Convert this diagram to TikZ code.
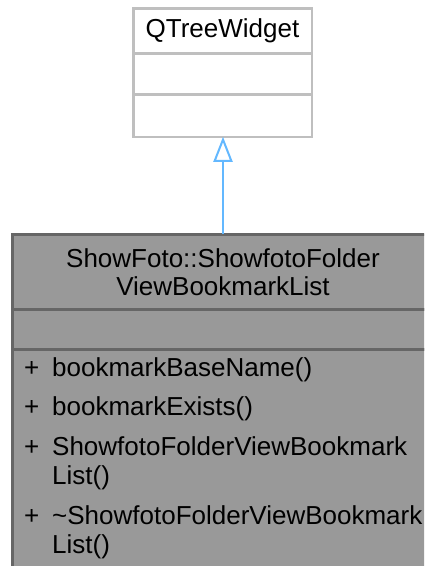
\documentclass[tikz,border=0pt]{standalone}
\usepackage{fontspec}
\setmainfont{Liberation Sans}
\usetikzlibrary{arrows.meta, positioning}
\definecolor{frameLight}{RGB}{191, 191, 191}
\definecolor{frameDark}{RGB}{102, 102, 102}
\definecolor{classFill}{RGB}{153, 153, 153}
\definecolor{inherit}{RGB}{99, 184, 255}

\begin{document}
\begin{tikzpicture}[x=1pt, y=-1pt, font=\fontsize{26}{28}\selectfont,
        base/.style={rectangle, draw=frameLight, line width=2.5pt, fill=white,
                     minimum width=178.5pt, inner sep=0pt, outer sep=0pt},
        cls/.style={rectangle, draw=frameDark, line width=2.5pt, fill=classFill,
                    minimum width=421.5pt, inner sep=0pt, outer sep=0pt, align=center},
        plus/.style={anchor=base west, inner sep=0pt},
        member/.style={anchor=base west, inner sep=0pt}]
        \clip (0,0) rectangle (424,566);
        % base class
        \node[base, minimum height=45.25pt] (qtw) at (222.5,30.9) {QTreeWidget};
        \node[base, minimum height=41pt, below=0pt of qtw] (qtwattr) {};
        \node[base, minimum height=42.25pt, below=0pt of qtwattr] (qtwops) {};
        % derived class
        \node[cls, minimum height=75.25pt] (bml) at (223,271.9) {ShowFoto::ShowfotoFolder\\ViewBookmarkList};
        \node[cls, minimum height=40pt, below=0pt of bml] (bmlattr) {};
        \node[cls, minimum height=240pt, below=0pt of bmlattr] (bmlops) {};
        % members
        \node[plus] (p1) at (24,376) {+};
        \node[member] (m1) at (52,376) {bookmarkBaseName()};
        \node[plus] (p2) at (24,415.5) {+};
        \node[member] (m2) at (52,415.5) {bookmarkExists()};
        \node[plus] (p3) at (24,455.3) {+};
        \node[member] (m3) at (52,455.3) {ShowfotoFolderViewBookmark};
        \node[member] (m3b) at (52,484) {List()};
        \node[plus] (p4) at (24,524.5) {+};
        \node[member] (m4) at (52,524.5) {\textasciitilde ShowfotoFolderViewBookmark};
        \node[member] (m4b) at (52,553.3) {List()};
        % inheritance
        \draw[inherit, line width=2pt, -{Triangle[open, length=25pt, width=19pt]}]
            (bml.north) -- (bml.north |- qtwops.south);
\end{tikzpicture}
\end{document}
